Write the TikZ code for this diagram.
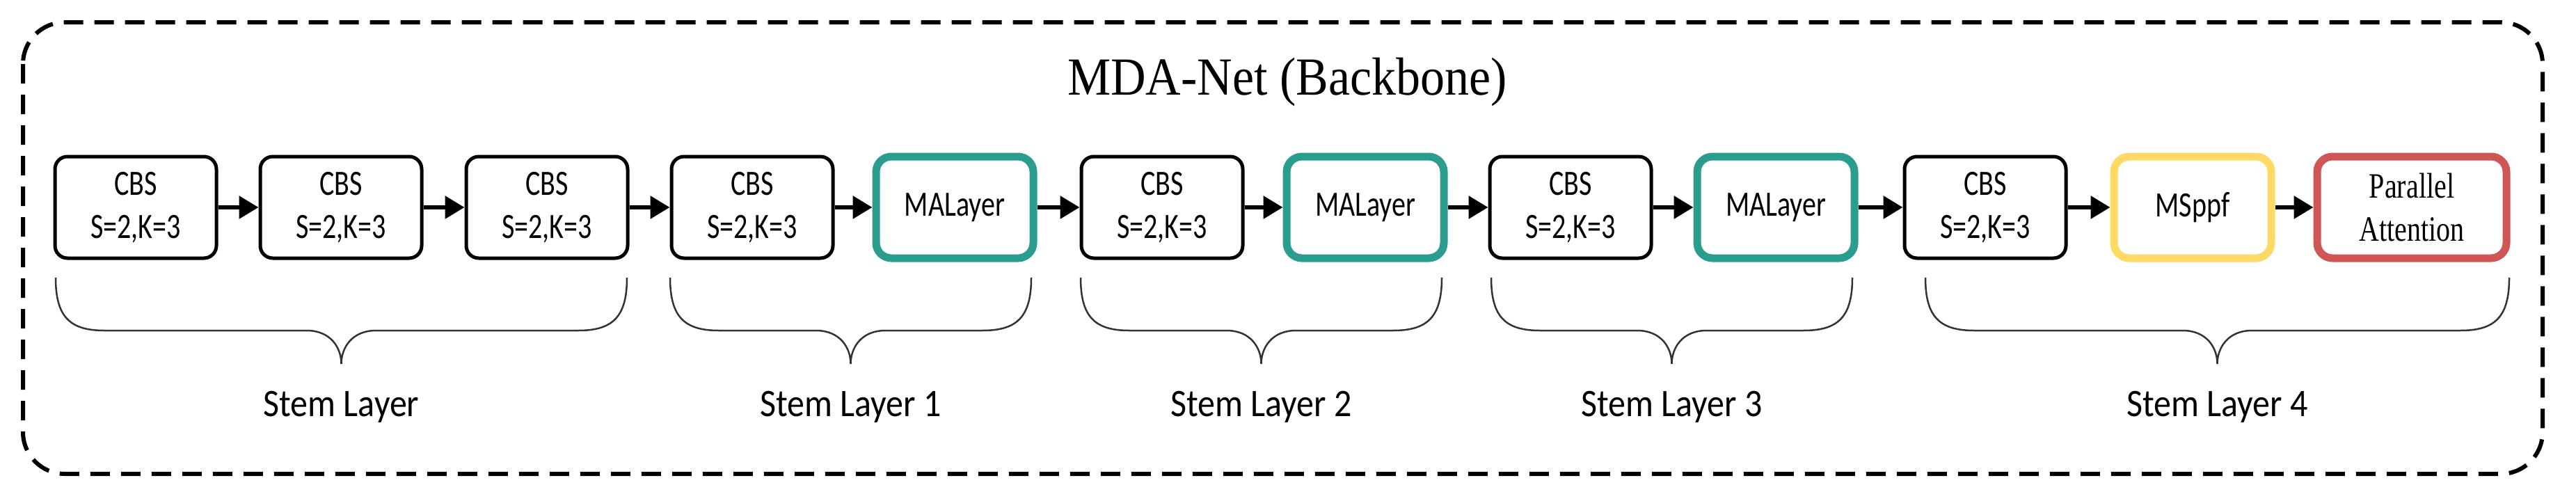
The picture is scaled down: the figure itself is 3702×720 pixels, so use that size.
\documentclass[tikz,border=0pt]{standalone}
\usepackage{fontspec}
\usepackage{graphicx}
\setmainfont{Carlito}
\newfontfamily\serifx{Liberation Serif}
\usetikzlibrary{arrows.meta}
\definecolor{teal2}{HTML}{2A9D8F}
\definecolor{yel2}{HTML}{FFD966}
\definecolor{red2}{HTML}{D05555}
\newcommand\vs[1]{\scalebox{1}[1.28]{#1}}
\newcommand\mybrace[4]{% x1 x2 label
  \pgfmathsetmacro\mid{(#1+#2)/2}
  \draw[line width=2.5pt,black!80] (#1,399) .. controls (#1,455) and (#1+20,475) .. (#1+70,475) -- (\mid-50,475) .. controls (\mid-15,475) and (\mid,500) .. (\mid,523)
   .. controls (\mid,500) and (\mid+15,475) .. (\mid+50,475) -- (#2-70,475) .. controls (#2-20,475) and (#2,455) .. (#2,399);
  \node[font=\fontsize{50}{56}\selectfont] at (\mid,585) {\scalebox{1}[1.12]{#3}};}
\begin{document}
\begin{tikzpicture}[x=1pt,y=-1pt,
  box/.style={draw=black,line width=5pt,rounded corners=18pt,minimum width=232pt,minimum height=146pt,align=center,font=\fontsize{40}{62}\selectfont,inner sep=0pt},
  cbox/.style={draw=#1,line width=11pt,rounded corners=22pt,minimum width=226pt,minimum height=146pt,align=center,font=\fontsize{40}{62}\selectfont,inner sep=0pt},
  arr/.style={-{Triangle[length=28pt,width=32pt]},line width=6pt}]
\useasboundingbox (0,0) rectangle (3702,720);
\draw[dashed,line width=6pt,dash pattern=on 28pt off 16pt,rounded corners=60pt] (33,32) rectangle (3654,681);
\node[font=\serifx\fontsize{70}{76}\selectfont] (title) at (1850,118) {\scalebox{1}[1.1]{MDA-Net (Backbone)}};
\node[box] (c1) at (195,298) {\vs{CBS}\\\vs{S=2,K=3}};
\node[box] (c2) at (490,298) {\vs{CBS}\\\vs{S=2,K=3}};
\node[box] (c3) at (786,298) {\vs{CBS}\\\vs{S=2,K=3}};
\node[box] (c4) at (1081,298) {\vs{CBS}\\\vs{S=2,K=3}};
\node[cbox=teal2] (m1) at (1372,298) {\vs{MALayer}};
\node[box] (c5) at (1670,298) {\vs{CBS}\\\vs{S=2,K=3}};
\node[cbox=teal2] (m2) at (1962,298) {\vs{MALayer}};
\node[box] (c6) at (2257,298) {\vs{CBS}\\\vs{S=2,K=3}};
\node[cbox=teal2] (m3) at (2552,298) {\vs{MALayer}};
\node[box] (c7) at (2853,298) {\vs{CBS}\\\vs{S=2,K=3}};
\node[cbox=yel2] (ms) at (3151,298) {\vs{MSppf}};
\node[cbox=red2,minimum width=272pt,font=\serifx\fontsize{40}{62}\selectfont] (pa) at (3466,298) {\vs{Parallel}\\\vs{Attention}};
\foreach \a/\b in {c1/c2,c2/c3,c3/c4,c4/m1,m1/c5,c5/m2,m2/c6,c6/m3,m3/c7,c7/ms,ms/pa}
  \draw[arr] (\a) -- (\b);
\mybrace{80}{901}{Stem Layer}{}
\mybrace{963}{1482}{Stem Layer 1}{}
\mybrace{1553}{2072}{Stem Layer 2}{}
\mybrace{2143}{2662}{Stem Layer 3}{}
\mybrace{2767}{3606}{Stem Layer 4}{}
\end{tikzpicture}
\end{document}
